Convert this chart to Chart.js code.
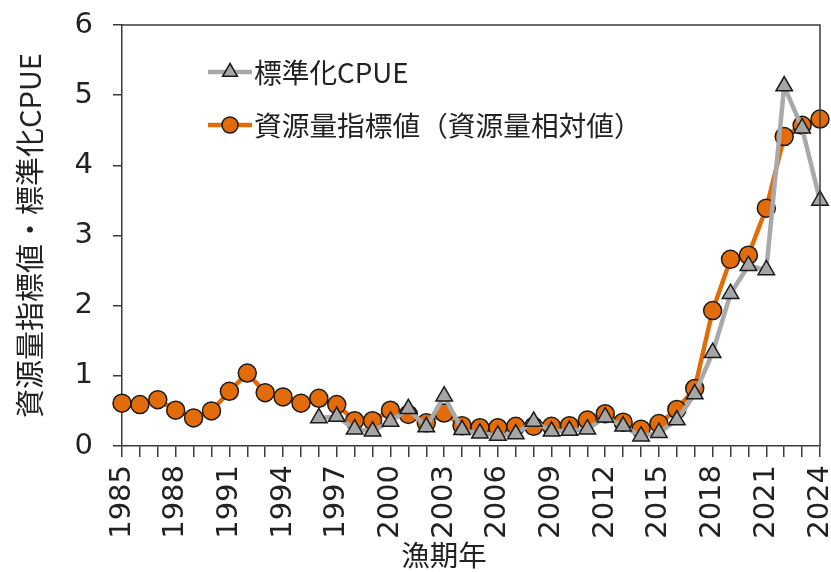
<!DOCTYPE html>
<html>
<head>
<meta charset="utf-8">
<script src="https://cdn.jsdelivr.net/npm/chart.js@4/dist/chart.umd.min.js"></script>
<style>
  html, body { margin: 0; padding: 0; background: #fff; }
  #wrap { width: 831px; height: 572px; }
</style>
</head>
<body>
<div id="wrap"><canvas id="chart" width="831" height="572"></canvas></div>
<script>
// data
const years = [];
for (let y = 1985; y <= 2024; y++) years.push(y);

const cpue = [
  null, null, null, null, null, null, null, null, null, null, null,
  0.40, 0.42, 0.24, 0.21, 0.35, 0.53, 0.27, 0.71, 0.23,
  0.18, 0.15, 0.17, 0.35, 0.21, 0.22, 0.24, 0.41, 0.28, 0.14,
  0.19, 0.37, 0.74, 1.33, 2.17, 2.57, 2.51, 5.13, 4.53, 3.50
];

const resourceIndex = [
  0.61, 0.59, 0.66, 0.51, 0.40, 0.50, 0.78, 1.04, 0.76, 0.70,
  0.61, 0.68, 0.59, 0.36, 0.36, 0.51, 0.45, 0.33, 0.47, 0.29,
  0.26, 0.26, 0.28, 0.28, 0.28, 0.29, 0.37, 0.46, 0.34, 0.24,
  0.32, 0.52, 0.82, 1.93, 2.66, 2.72, 3.39, 4.41, 4.57, 4.66
];

const yTicks = [0, 1, 2, 3, 4, 5, 6];

const seriesNames = ['標準化CPUE', '資源量指標値（資源量相対値）'];
const xTitle = '漁期年';
const yTitle = '資源量指標値・標準化CPUE';

const numFont = '"DejaVu Sans", Verdana, sans-serif';
const jpFont = '"Noto Sans CJK JP", "DejaVu Sans", sans-serif';

// frame around the plot, legend in the upper left, x title
const framePlugin = {
  id: 'frame',
  afterDraw(chart) {
    const { ctx, chartArea: a } = chart;
    ctx.save();
    ctx.strokeStyle = '#3a3a3a';
    ctx.lineWidth = 1.5;
    ctx.beginPath();
    ctx.moveTo(a.left, a.top);
    ctx.lineTo(a.right, a.top);
    ctx.lineTo(a.right, a.bottom);
    ctx.stroke();

    // legend
    const x0 = a.left + 86, rows = [a.top + 47, a.top + 100];
    chart.data.datasets.forEach((ds, i) => {
      const y = rows[i], cx = x0 + 22;
      ctx.strokeStyle = ds.borderColor;
      ctx.lineWidth = ds.borderWidth;
      ctx.beginPath();
      ctx.moveTo(x0, y);
      ctx.lineTo(x0 + 44, y);
      ctx.stroke();
      ctx.fillStyle = ds.pointBackgroundColor;
      ctx.strokeStyle = ds.pointBorderColor;
      ctx.lineWidth = ds.pointBorderWidth;
      ctx.beginPath();
      if (ds.pointStyle === 'circle') {
        ctx.arc(cx, y, 8, 0, Math.PI * 2);
      } else {
        const r = 8.5;
        ctx.moveTo(cx, y - r);
        ctx.lineTo(cx + r * 0.87, y + r * 0.5);
        ctx.lineTo(cx - r * 0.87, y + r * 0.5);
        ctx.closePath();
      }
      ctx.fill();
      ctx.stroke();
      ctx.fillStyle = '#222';
      ctx.font = '27.7px ' + jpFont;
      ctx.textBaseline = 'middle';
      ctx.textAlign = 'left';
      ctx.fillText(ds.label, x0 + 46, y);
    });

    // x axis title (sits a little left of centre in the reference)
    ctx.font = '28.5px ' + jpFont;
    ctx.textAlign = 'center';
    ctx.textBaseline = 'middle';
    ctx.fillStyle = '#222';
    ctx.fillText(xTitle, 444, 555);
    ctx.restore();
  }
};

new Chart(document.getElementById('chart'), {
  type: 'line',
  data: {
    labels: years,
    datasets: [
      {
        label: seriesNames[0],
        data: cpue,
        borderColor: '#a9a9a9',
        borderWidth: 4.5,
        pointStyle: 'triangle',
        pointRadius: 9.5,
        pointBackgroundColor: '#a6a6a6',
        pointBorderColor: '#1a1a1a',
        pointBorderWidth: 1.5,
        tension: 0,
        spanGaps: false
      },
      {
        label: seriesNames[1],
        data: resourceIndex,
        borderColor: '#e36c0a',
        borderWidth: 4.5,
        pointStyle: 'circle',
        pointRadius: 9,
        pointBackgroundColor: '#e36c0a',
        pointBorderColor: '#1a1a1a',
        pointBorderWidth: 1.5,
        tension: 0
      }
    ]
  },
  options: {
    responsive: false,
    animation: false,
    layout: { padding: { top: 25, right: 9, left: 0, bottom: 0 } },
    plugins: {
      legend: { display: false },
      tooltip: { enabled: false }
    },
    scales: {
      x: {
        type: 'category',
        offset: false,
        grid: { drawOnChartArea: false, drawTicks: true, tickLength: 11, color: '#3a3a3a', lineWidth: 1.5 },
        border: { display: true, color: '#3a3a3a', width: 1.5 },
        ticks: {
          autoSkip: false,
          minRotation: 90,
          maxRotation: 90,
          padding: 8,
          color: '#222',
          font: { family: numFont, size: 29 },
          callback: function (v, i) { return i % 3 === 0 ? years[i] : ''; }
        },
        title: { display: false },
        afterFit(scale) {
          scale.paddingLeft = 0;
          scale.paddingRight = 0;
          scale.height = 126;
        }
      },
      y: {
        min: 0,
        max: 6,
        afterBuildTicks(scale) {
          scale.ticks = yTicks.map(v => ({ value: v }));
        },
        grid: { drawOnChartArea: false, drawTicks: true, tickLength: 9, color: '#3a3a3a', lineWidth: 1.5 },
        border: { display: true, color: '#3a3a3a', width: 1.5 },
        ticks: {
          padding: 20,
          color: '#222',
          font: { family: numFont, size: 29 }
        },
        title: {
          display: true,
          text: yTitle,
          color: '#222',
          padding: { top: 13, bottom: 0 },
          font: { family: jpFont, size: 29 }
        },
        afterFit(scale) {
          scale.paddingTop = 0;
          scale.paddingBottom = 0;
          scale.width = 122;
        }
      }
    }
  },
  plugins: [framePlugin]
});
</script>
</body>
</html>
